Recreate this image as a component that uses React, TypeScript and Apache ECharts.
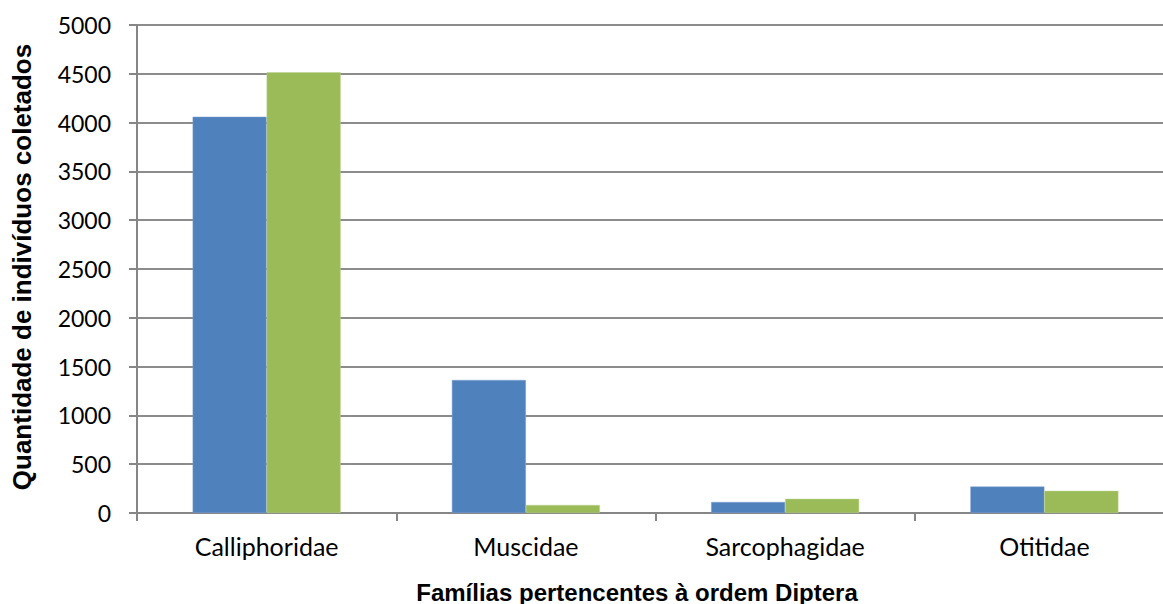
import React, { useEffect, useRef } from "react";
import * as echarts from "echarts";

const categories = ["Calliphoridae", "Muscidae", "Sarcophagidae", "Otitidae"];
const seriesA = [4060, 1363, 113, 271];
const seriesB = [4515, 82, 145, 227];
const yTicks = [0, 500, 1000, 1500, 2000, 2500, 3000, 3500, 4000, 4500, 5000];
const yTitle = "Quantidade de indivíduos coletados";
const xTitle = "Famílias pertencentes à ordem Diptera";

export default function App() {
  const ref = useRef<HTMLDivElement>(null);
  useEffect(() => {
    const chart = echarts.init(ref.current!, null, { renderer: "svg" });
    const labelFont = "Lato, 'Open Sans', sans-serif";
    const titleFont = "'Liberation Sans', Arial, sans-serif";
    chart.setOption({
      animation: false,
      backgroundColor: "#ffffff",
      grid: { left: 137, top: 25, width: 1037, height: 488, containLabel: false },
      xAxis: {
        type: "category",
        data: categories,
        boundaryGap: true,
        axisLine: { show: true, lineStyle: { color: "#868686", width: 2 } },
        axisTick: { show: true, length: 8, alignWithLabel: false, lineStyle: { color: "#868686", width: 2 } },
        axisLabel: { color: "#000", fontSize: 25, fontFamily: labelFont, margin: 20 },
        splitLine: { show: false },
      },
      yAxis: {
        type: "value",
        min: yTicks[0],
        max: yTicks[yTicks.length - 1],
        interval: yTicks[1] - yTicks[0],
        axisLine: { show: true, lineStyle: { color: "#868686", width: 2 } },
        axisTick: { show: true, length: 8, lineStyle: { color: "#868686", width: 2 } },
        axisLabel: {
          color: "#000",
          fontSize: 23,
          fontFamily: labelFont,
          margin: 26,
          formatter: (v: number) => String(v),
        },
        splitLine: { show: true, lineStyle: { color: "#8c8c8c", width: 2 } },
      },
      graphic: [
        {
          type: "text",
          x: 22,
          y: 267,
          rotation: Math.PI / 2,
          style: {
            text: yTitle,
            fontSize: 26,
            fontWeight: "bold",
            fontFamily: titleFont,
            fill: "#000",
            align: "center",
            verticalAlign: "middle",
          },
        },
        {
          type: "text",
          x: 637,
          y: 592,
          style: {
            text: xTitle,
            fontSize: 24,
            fontWeight: "bold",
            fontFamily: titleFont,
            fill: "#000",
            align: "center",
            verticalAlign: "middle",
          },
        },
      ],
      series: [
        {
          type: "bar",
          data: seriesA,
          barWidth: 74,
          barGap: "0%",
          itemStyle: { color: "#4F81BD", borderColor: "#7ea3d1", borderWidth: 0.5 },
        },
        {
          type: "bar",
          data: seriesB,
          barWidth: 74,
          barGap: "0%",
          itemStyle: { color: "#9BBB59", borderColor: "#b9d08a", borderWidth: 0.5 },
        },
      ],
    });
    return () => chart.dispose();
  }, []);
  return (
    <div style={{ position: "fixed", left: 0, top: 0, width: 1163, height: 604, overflow: "hidden", background: "#fff" }}>
      <div ref={ref} style={{ position: "absolute", left: 0, top: 0, width: 1180, height: 604 }} />
    </div>
  );
}
